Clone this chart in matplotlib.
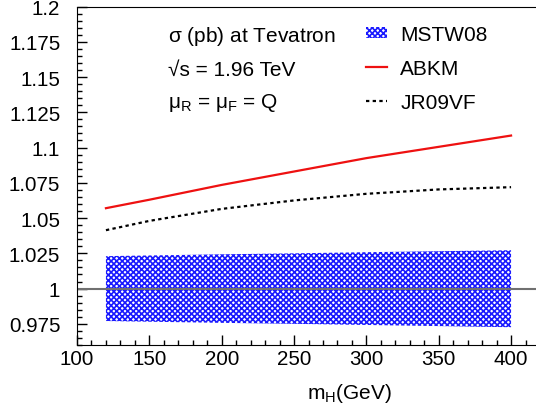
import numpy as np
import matplotlib
matplotlib.use("Agg")
import matplotlib.pyplot as plt
from matplotlib.patches import Patch
from matplotlib.lines import Line2D
from matplotlib.ticker import MultipleLocator

plt.rcParams['font.family'] = ['Liberation Sans', 'DejaVu Sans']
plt.rcParams['hatch.linewidth'] = 1.2

# Higgs mass points (GeV)
mH = [120, 150, 200, 250, 300, 350, 400]

# ratios
abkm = [1.057, 1.063, 1.0735, 1.083, 1.0925, 1.1005, 1.1085]
jr09 = [1.0414, 1.048, 1.0565, 1.0625, 1.0672, 1.0703, 1.0719]
mstw_hi = [1.023, 1.0235, 1.0243, 1.025, 1.0258, 1.0265, 1.0272]
mstw_lo = [0.977, 0.9765, 0.9757, 0.975, 0.9742, 0.9734, 0.9726]

fig = plt.figure(figsize=(5.36, 4.06), dpi=100)
ax = fig.add_axes([77/536, 60/406, 463/536, 338.5/406])

ax.fill_between(mH, mstw_lo, mstw_hi, facecolor='none', edgecolor='#1a1aff',
                hatch='xxxxxx', linewidth=0)
ax.axhline(1.0, color='#707070', lw=1.5)
ax.plot(mH, abkm, color='#ee1111', lw=1.6)
ax.plot(mH, jr09, color='black', lw=1.6, ls=(0, (1.5, 1.5)))

ax.set_xlim(100, 420)
ax.set_ylim(0.96, 1.2)
ax.xaxis.set_major_locator(MultipleLocator(50))
ax.xaxis.set_minor_locator(MultipleLocator(10))
ax.yaxis.set_minor_locator(MultipleLocator(0.005))
ax.set_yticks([0.975, 1.0, 1.025, 1.05, 1.075, 1.1, 1.125, 1.15, 1.175, 1.2])
ax.set_yticklabels(['0.975', '1', '1.025', '1.05', '1.075', '1.1', '1.125', '1.15', '1.175', '1.2'])
ax.tick_params(which='both', direction='in', labelsize=14.8)
ax.tick_params(which='major', length=7, width=1)
ax.tick_params(which='minor', length=3.5, width=1)
ax.tick_params(axis='y', pad=12)
ax.tick_params(axis='x', pad=3)
ax.spines['right'].set_visible(False)

ax.set_xlabel(r'm$_{\mathregular{H}}$(GeV)', fontsize=15)
ax.xaxis.set_label_coords(0.588, -0.139)
ax.xaxis.label.set_va('center')

tx = dict(fontsize=15, transform=ax.transAxes, va='center')
ax.text(0.197, (346-37)/338.5, r'$\mathregular{\sigma}$ (pb) at Tevatron', **tx)
ax.text(0.197, (346-70.5)/338.5, '\u221as = 1.96 TeV', **tx)
ax.text(0.197, (346-103)/338.5, r'$\mathregular{\mu_R}$ = $\mathregular{\mu_F}$ = Q', **tx)

handles = [Patch(facecolor='none', edgecolor='#1a1aff', hatch='xxxxxx', linewidth=0),
           Line2D([], [], color='#ee1111', lw=1.6),
           Line2D([], [], color='black', lw=1.6, ls=(0, (1.5, 1.5)))]
ax.legend(handles, ['MSTW08', 'ABKM', 'JR09VF'], loc='upper left',
          bbox_to_anchor=((366-77)/463, (346-26)/338.5), frameon=False,
          fontsize=15, handlelength=1.0, handleheight=0.45, handletextpad=0.65,
          labelspacing=0.72, borderaxespad=0, borderpad=0)

fig.savefig('out.png', dpi=100)
